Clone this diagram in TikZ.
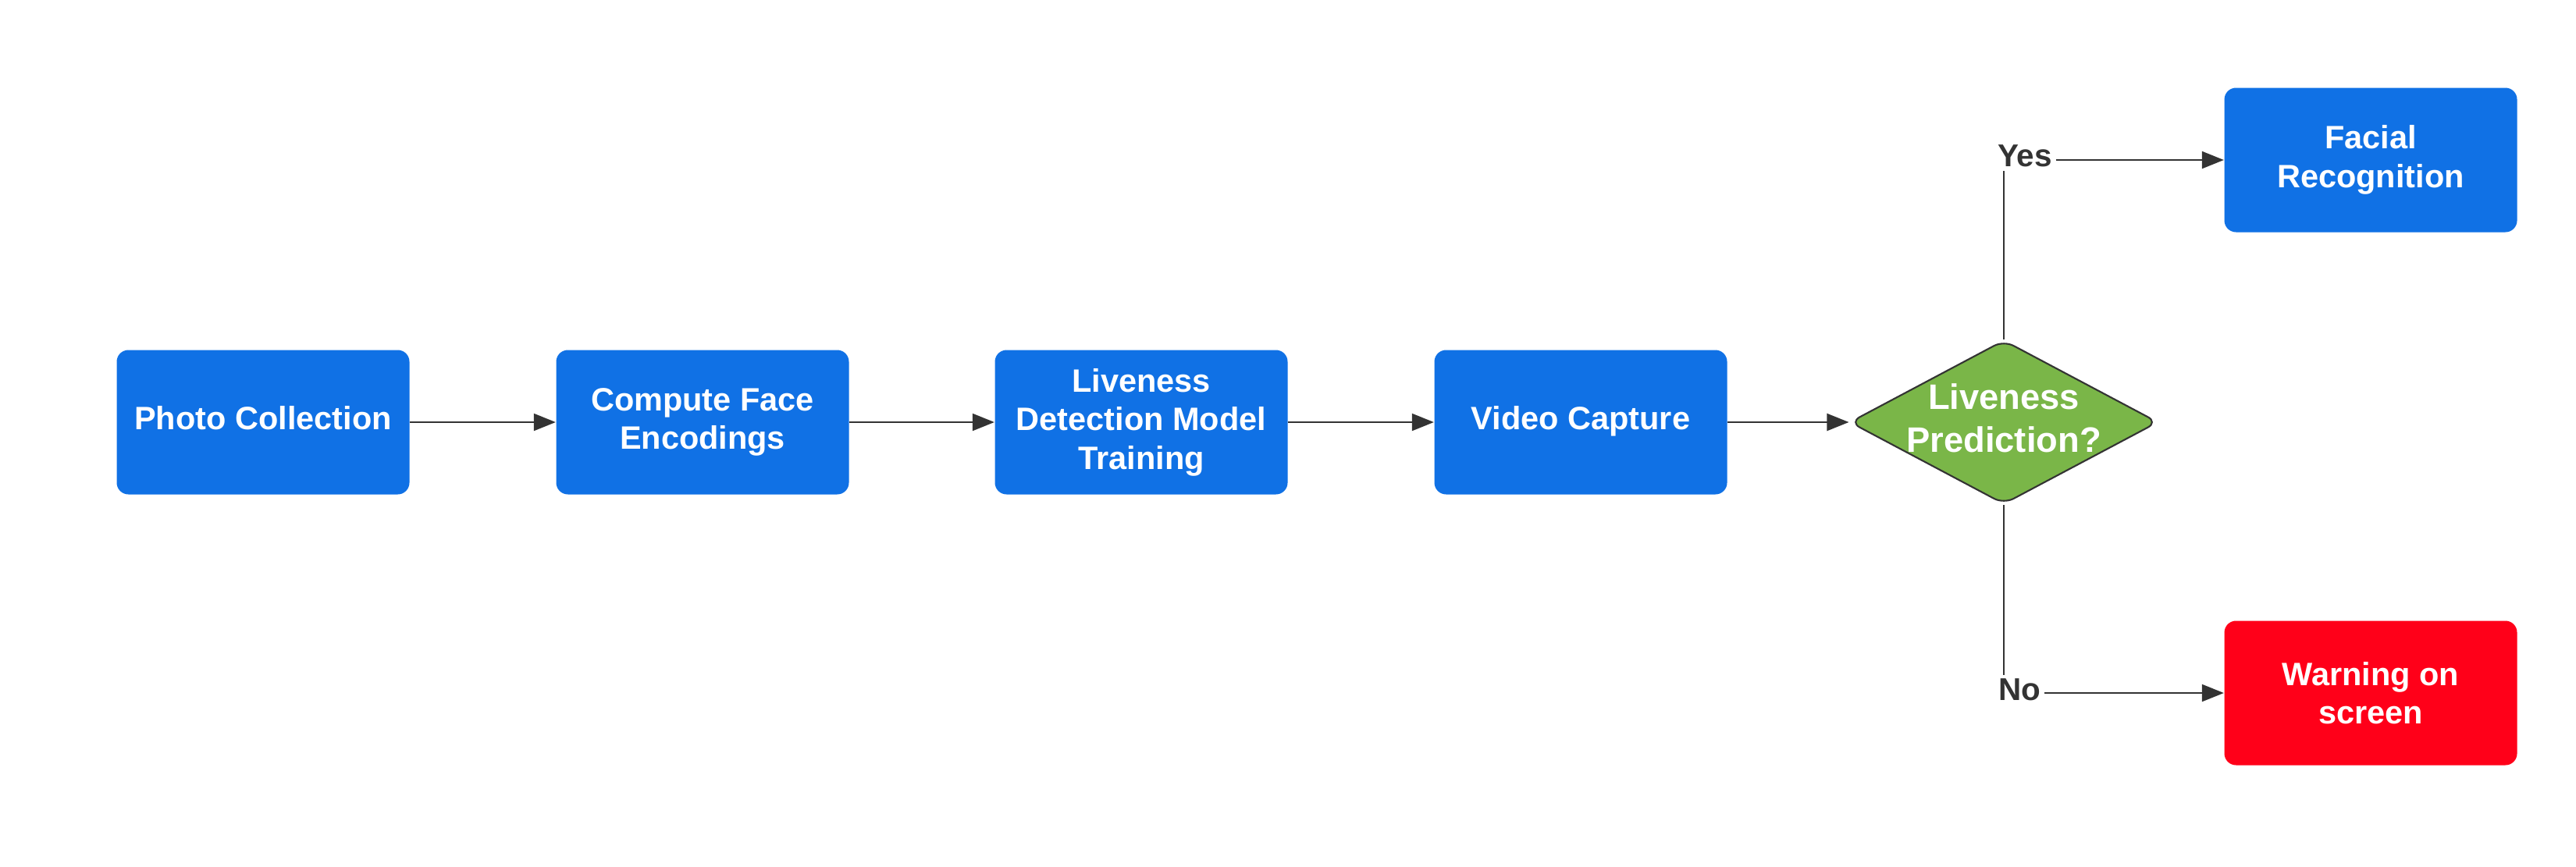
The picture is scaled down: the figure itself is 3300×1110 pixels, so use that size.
\documentclass[tikz,border=0pt]{standalone}
\usepackage{fontspec}
\setmainfont{Liberation Sans}
\usetikzlibrary{shapes.geometric,arrows.meta}
\definecolor{lblue}{HTML}{1071E5}
\definecolor{lgreen}{HTML}{7AB648}
\definecolor{lred}{HTML}{FF0019}
\definecolor{ink}{HTML}{333333}
\begin{document}
\begin{tikzpicture}[x=0.1mm,y=-0.1mm,
  box/.style={rectangle, rounded corners=1.5mm, fill=#1, minimum width=37.5mm, minimum height=18.5mm,
    inner sep=0pt, align=center, text=white, font=\fontsize{11.8}{14.1}\selectfont\bfseries},
  box/.default=lblue,
  oneline/.style={text depth=1.2mm},
  decision/.style={diamond, draw=ink, line width=0.6pt, fill=lgreen, rounded corners=1.4mm,
    minimum width=39.5mm, minimum height=21mm, inner sep=0pt},
  dtext/.style={align=center, text=white, font=\fontsize{12.9}{15.5}\selectfont\bfseries},
  lbl/.style={text=ink, inner sep=0.4mm, font=\fontsize{11.5}{13.8}\selectfont\bfseries},
  flow/.style={draw=ink, line width=0.6pt, -{Triangle[length=2.8mm,width=2.2mm]}},
  plain/.style={draw=ink, line width=0.4pt}]
\useasboundingbox[fill=white] (0,0) rectangle (3300,1110);

\node[box, oneline] (pc) at (337,541) {Photo Collection};
\node[box] (cf) at (900,541) {Compute Face\\Encodings};
\node[box] (ld) at (1462,541) {Liveness\\Detection Model\\Training};
\node[box, oneline] (vc) at (2025,541) {Video Capture};
\node[decision] (d) at (2567,541) {};
\node[dtext] (dt) at (2567,536) {Liveness\\Prediction?};
\node[box] (fr) at (3037,205) {Facial\\Recognition};
\node[box=lred] (ws) at (3037,888) {Warning on\\screen};

\node[lbl] (yes) at (2594,200) {Yes};
\node[lbl] (no) at (2587,884) {No};

\draw[flow] (pc) -- (cf);
\draw[flow] (cf) -- (ld);
\draw[flow] (ld) -- (vc);
\draw[flow] (vc) -- (d);
\draw[plain] (d.north) -- (d.north |- yes.south);
\draw[flow] (yes.east |- fr.west) -- (fr.west);
\draw[plain] (d.south) -- (d.south |- no.north);
\draw[flow] (no.east |- ws.west) -- (ws.west);
\end{tikzpicture}
\end{document}
